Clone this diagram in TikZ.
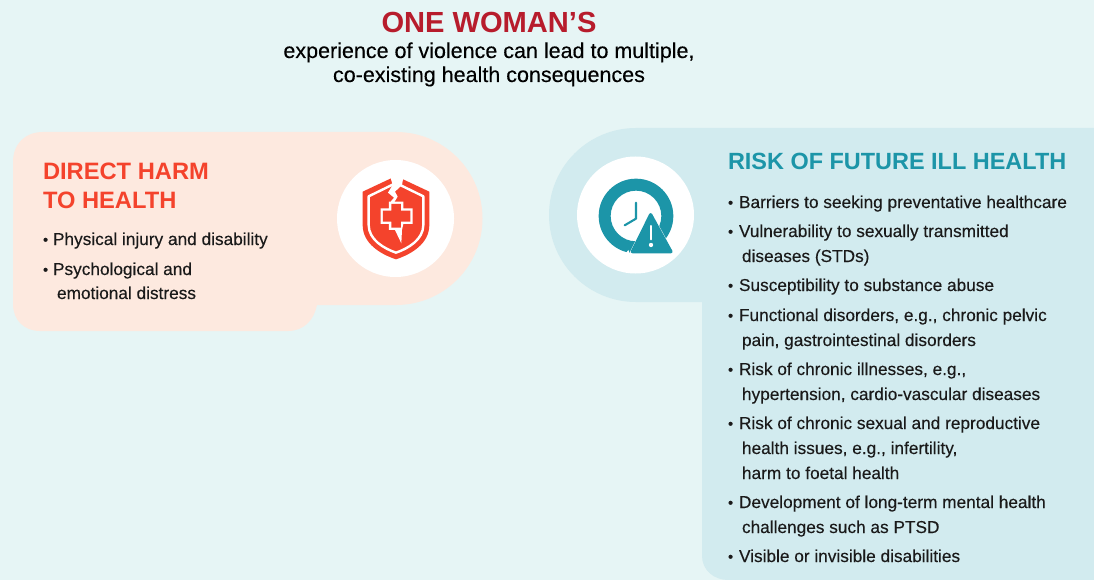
\documentclass[tikz,border=0pt]{standalone}
\usepackage{fontspec}
\setmainfont{Liberation Sans}
\newfontfamily\medf[FakeBold=0.25]{Liberation Sans}
\definecolor{bgc}{HTML}{E6F5F5}
\definecolor{peach}{HTML}{FDE9DF}
\definecolor{tealbg}{HTML}{D2EBEF}
\definecolor{harm}{HTML}{F4432C}
\definecolor{wine}{HTML}{B71C2C}
\definecolor{teal2}{HTML}{1C95A8}
\definecolor{ink}{HTML}{1A1A1A}
\tikzset{
 base/.style={inner sep=0pt,outer sep=0pt,anchor=base west,text=ink},
 ttl/.style={base,anchor=base,font=\bfseries\fontsize{29.1}{30}\selectfont,text=wine},
 sub/.style={base,anchor=base,font=\medf\fontsize{21.5}{24}\selectfont,text=black},
 hharm/.style={base,font=\bfseries\fontsize{23.7}{26}\selectfont,text=harm},
 hteal/.style={base,font=\bfseries\fontsize{23.45}{26}\selectfont,text=teal2},
 li/.style={base,font=\medf\fontsize{17.25}{20}\selectfont},
}
\newcommand{\bul}{\raisebox{0.02em}{\scalebox{0.85}{•}}}
\begin{document}
\begin{tikzpicture}[x=1pt,y=-1pt]
\path[use as bounding box,fill=bgc] (0,0) rectangle (1094,580);
% left panel
\fill[peach] (43,132) -- (396,132) arc[start angle=-90,end angle=90,radius=86.5] -- (317,305)
  .. controls (314,320) and (304,331) .. (288,331) -- (40,331)
  .. controls (24,331) and (13,320) .. (13,304) -- (13,162)
  .. controls (13,144) and (25,132) .. (43,132) -- cycle;
% right panel
\fill[tealbg] (1094,128) -- (636,128) arc[start angle=-90,end angle=-270,radius=87] -- (702,302)
  -- (702,556) .. controls (702,570) and (714,580) .. (728,580) -- (1094,580) -- cycle;
% white discs
\fill[white] (395.5,218.5) circle[radius=58.5];
\fill[white] (635.5,215) circle[radius=58.5];
% shield icon
\begin{scope}[shift={(320,150)},x=0.3333pt,y=-0.3333pt]
 \fill[harm] (228,78) -- (128,125) -- (128,225) .. controls (128,280) and (180,312) .. (228,328)
   .. controls (276,312) and (328,280) .. (328,225) -- (328,125) -- cycle;
 \draw[white,line width=2.4pt,line join=round] (228,99) -- (146,139) -- (146,225)
   .. controls (146,268) and (190,295) .. (228,308)
   .. controls (266,295) and (310,268) .. (310,225) -- (310,139) -- cycle;
 \fill[white] (208,70) -- (252,70) -- (246,105) -- (225,125) -- (233,140) -- (222,158) -- (212,155) -- (222,143) -- (204,128) -- (218,105) -- cycle;
 \fill[white] (207,155) -- (250,155) -- (250,175) -- (278,175) -- (278,222) -- (250,222) -- (246,240)
   -- (244,280) -- (225,240) -- (207,240) -- (207,222) -- (182,222) -- (182,175) -- (207,175) -- cycle;
 \fill[harm] (214,162) -- (243,162) -- (243,182) -- (271,182) -- (271,215) -- (243,215) -- (243,233)
   -- (214,233) -- (214,215) -- (189,215) -- (189,182) -- (214,182) -- cycle;
\end{scope}
% clock icon
\begin{scope}[shift={(560,150)},x=0.3333pt,y=-0.3333pt]
 \fill[teal2,even odd rule] (228,198) circle[radius=112] (228,198) circle[radius=76];
 \filldraw[white,line width=2.6pt,line join=round] (272,190) -- (338,310) -- (212,310) -- cycle;
 \fill[white] (205,300) -- (212,320) -- (190,320) -- cycle;
 \draw[teal2,line width=2.1pt,line cap=round,line join=round] (228,158) -- (228,206) -- (194,226);
 \filldraw[teal2,line width=3.2pt,line join=round] (272,194) -- (333,305) -- (217,305) -- cycle;
 \draw[white,line width=2pt,line cap=round] (273,228) -- (273,268);
 \fill[white] (273,285) circle[radius=6.5];
\end{scope}
% heading
\node[ttl] (title) at (489,33) {ONE WOMAN’S};
\node[sub] (sub1) at (489,58) {experience of violence can lead to multiple,};
\node[sub] (sub2) at (489,82) {co-existing health consequences};
% left text
\node[hharm] (h1) at (43,179) {DIRECT HARM};
\node[hharm] (h2) at (43,208) {TO HEALTH};
\node[li] (l1b) at (43,245) {\bul};
\node[li] (l1) at (53,245) {Physical injury and disability};
\node[li] (l2b) at (43,275) {\bul};
\node[li] (l2) at (53,275) {Psychological and};
\node[li] (l3) at (57,299) {emotional distress};
% right text
\node[hteal] (h3) at (728,170) {RISK OF FUTURE ILL HEALTH};
\foreach \n/\y/\t in {a/208/{Barriers to seeking preventative healthcare},
  b/237/{Vulnerability to sexually transmitted},
  d/291/{Susceptibility to substance abuse},
  e/321/{Functional disorders, e.g., chronic pelvic},
  g/375/{Risk of chronic illnesses, e.g.,},
  i/429/{Risk of chronic sexual and reproductive},
  l/508/{Development of long-term mental health},
  n/562/{Visible or invisible disabilities}}{
  \node[li] (bul\n) at (728,\y) {\bul};
  \node[li] (r\n) at (739,\y) {\t};
}
\foreach \n/\y/\t in {c/262/{diseases (STDs)},
  f/346/{pain, gastrointestinal disorders},
  h/400/{hypertension, cardio-vascular diseases},
  j/454/{health issues, e.g., infertility,},
  k/479/{harm to foetal health},
  m/533/{challenges such as PTSD}}{
  \node[li] (r\n) at (742,\y) {\t};
}
\end{tikzpicture}
\end{document}
